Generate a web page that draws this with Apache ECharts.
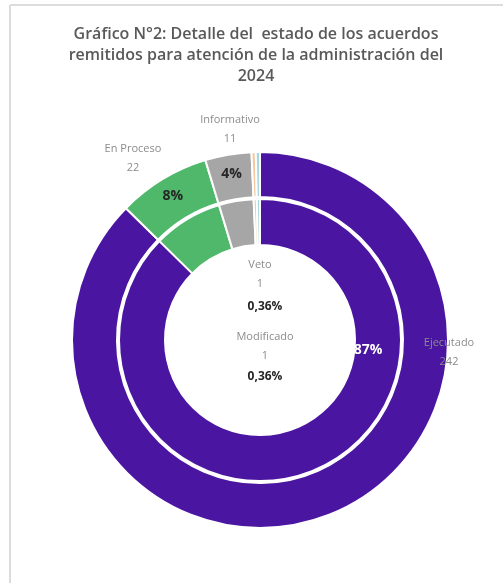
<!DOCTYPE html>
<html>
<head>
    <meta charset="utf-8" />
    <title>Gráfico N°2</title>
    <script src="https://cdn.jsdelivr.net/npm/echarts@6/dist/echarts.min.js"></script>
    <style>
        html, body { margin: 0; padding: 0; background: #fff; }
        #grafico { width: 503px; height: 583px; }
    </style>
</head>
<body>
    <div id="grafico"></div>

    <script>
        // datos del gráfico
        var estados = ["Ejecutado", "En Proceso", "Informativo", "Veto", "Modificado"];
        var acuerdos = [242, 22, 11, 1, 1];
        var colores = ["#4a16a1", "#4fb86b", "#a6a6a6", "#f5c79b", "#a9d6e3"];

        // posición manual de las etiquetas (como en el original)
        var posNombre = {
            "Ejecutado": [449, 352],
            "En Proceso": [133, 158],
            "Informativo": [230, 129],
            "Veto": [260, 274],
            "Modificado": [265, 346]
        };
        var posPct = {
            "Ejecutado": [368, 350],
            "Veto": [265, 307],
            "Modificado": [265, 377]
        };

        function fmtPct(p) {
            if (p < 1) return p.toFixed(2).replace('.', ',') + '%';
            return Math.round(p) + '%';
        }

        var datosExt = [];
        var datosInt = [];
        for (var i = 0; i < estados.length; i++) {
            datosExt.push({ name: estados[i], value: acuerdos[i], itemStyle: { color: colores[i] } });
            datosInt.push({ name: estados[i], value: acuerdos[i], itemStyle: { color: colores[i] } });
        }

        var chart = echarts.init(document.getElementById('grafico'));
        var option = {
            animation: false,
            title: {
                text: "Gráfico N°2: Detalle del  estado de los acuerdos\nremitidos para atención de la administración del\n2024",
                left: 256,
                top: 24,
                padding: 0,
                textAlign: 'center',
                textStyle: {
                    fontFamily: 'Open Sans',
                    fontSize: 16,
                    fontWeight: 600,
                    color: '#595959',
                    lineHeight: 21
                }
            },
            graphic: [
                { type: 'line', shape: { x1: 10, y1: 5, x2: 503, y2: 5 }, style: { stroke: '#dcdcdc', lineWidth: 2 } },
                { type: 'line', shape: { x1: 10, y1: 5, x2: 10, y2: 583 }, style: { stroke: '#dcdcdc', lineWidth: 2 } }
            ],
            series: [
                {
                    // anillo exterior: porcentajes
                    type: 'pie',
                    center: [260, 340],
                    radius: [143, 188],
                    startAngle: 90,
                    clockwise: true,
                    silent: true,
                    avoidLabelOverlap: false,
                    itemStyle: { borderColor: '#fff', borderWidth: 2 },
                    label: {
                        show: true,
                        position: 'inside',
                        fontFamily: 'Open Sans',
                        fontWeight: 'bold',
                        fontSize: 14,
                        color: '#262626',
                        formatter: function (p) { return fmtPct(p.percent); }
                    },
                    labelLine: { show: false },
                    labelLayout: function (p) {
                        var nm = estados[p.dataIndex];
                        if (posPct[nm]) {
                            var r = { x: posPct[nm][0], y: posPct[nm][1], align: 'center', verticalAlign: 'middle' };
                            if (nm !== 'Ejecutado') r.fontSize = 12;
                            return r;
                        }
                    },
                    data: datosExt.map(function (d) {
                        if (d.name === 'Ejecutado') {
                            return Object.assign({}, d, { label: { color: '#fff' } });
                        }
                        return d;
                    })
                },
                {
                    // anillo interior: nombre y cantidad
                    type: 'pie',
                    center: [260, 340],
                    radius: [95, 141],
                    startAngle: 90,
                    clockwise: true,
                    silent: true,
                    avoidLabelOverlap: false,
                    itemStyle: { borderColor: '#fff', borderWidth: 2 },
                    label: {
                        show: true,
                        position: 'inside',
                        fontFamily: 'Open Sans',
                        fontSize: 11,
                        lineHeight: 19,
                        color: '#8c8c8c',
                        formatter: '{b}\n{c}'
                    },
                    labelLine: { show: false },
                    labelLayout: function (p) {
                        var pos = posNombre[estados[p.dataIndex]];
                        return { x: pos[0], y: pos[1], align: 'center', verticalAlign: 'middle' };
                    },
                    data: datosInt
                }
            ]
        };
        chart.setOption(option);
    </script>
</body>
</html>
